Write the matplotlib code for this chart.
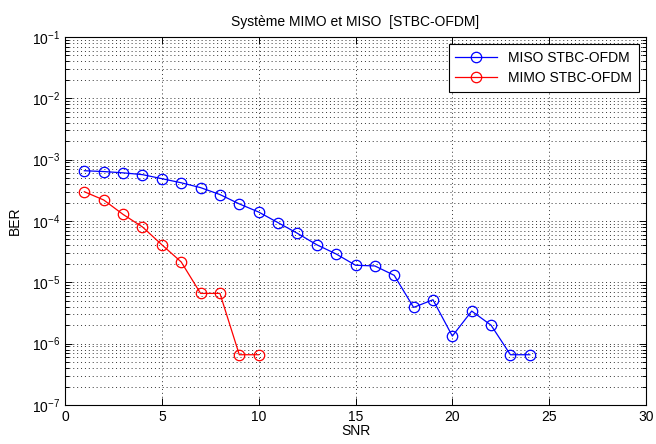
import matplotlib
matplotlib.use("Agg")
import matplotlib.pyplot as plt
from matplotlib.ticker import LogLocator, NullFormatter, MultipleLocator

plt.rcParams['font.family'] = ['Liberation Sans', 'DejaVu Sans']

snr_miso = list(range(1, 25))
ber_miso = [6.6e-4, 6.4e-4, 6.1e-4, 5.7e-4, 4.9e-4, 4.2e-4, 3.5e-4, 2.7e-4,
            1.9e-4, 1.4e-4, 9.4e-5, 6.3e-5, 4.1e-5, 2.9e-5, 1.9e-5, 1.85e-5,
            1.3e-5, 3.9e-6, 5.2e-6, 1.33e-6, 3.4e-6, 2.0e-6, 6.6e-7, 6.6e-7]

snr_mimo = list(range(1, 11))
ber_mimo = [3.0e-4, 2.2e-4, 1.28e-4, 8.0e-5, 4.1e-5, 2.15e-5, 6.6e-6, 6.6e-6,
            6.6e-7, 6.6e-7]

labels = ['MISO STBC-OFDM', 'MIMO STBC-OFDM']

fig = plt.figure(figsize=(6.56, 4.44), dpi=100)
ax = fig.add_axes([65 / 656, 1 - 405 / 444, 581 / 656, 368 / 444])

ax.semilogy(snr_miso, ber_miso, '-o', color='#0000ff', lw=0.9,
            markersize=7.5, markerfacecolor='none', markeredgewidth=0.9,
            label=labels[0])
ax.semilogy(snr_mimo, ber_mimo, '-o', color='#ff0000', lw=0.9,
            markersize=7.5, markerfacecolor='none', markeredgewidth=0.9,
            label=labels[1])

ax.set_xlim(0, 30)
ax.set_ylim(1e-7, 1e-1)
ax.xaxis.set_major_locator(MultipleLocator(5))
ax.yaxis.set_major_locator(LogLocator(base=10, numticks=10))
ax.yaxis.set_minor_locator(LogLocator(base=10, subs=range(2, 10), numticks=20))
ax.yaxis.set_minor_formatter(NullFormatter())
ax.xaxis.get_offset_text().set_visible(False)
ax.yaxis.get_offset_text().set_visible(False)

ax.grid(True, which='major', linestyle=(0, (1, 3)), color='#333333', lw=0.7)
ax.grid(True, which='minor', axis='y', linestyle=(0, (1, 3)), color='#333333', lw=0.7)

ax.tick_params(which='both', direction='in', top=True, right=True,
               labelsize=10, width=0.7)
ax.tick_params(which='major', length=5)
ax.tick_params(which='minor', length=3)
for s in ax.spines.values():
    s.set_linewidth(0.8)

ax.set_title('Système MIMO et MISO  [STBC-OFDM]', fontsize=10, pad=8)
ax.set_xlabel('SNR', fontsize=10, labelpad=0)
ax.set_ylabel('BER', fontsize=10, labelpad=7)

leg = ax.legend(loc='upper right', fontsize=10, fancybox=False,
                framealpha=1, edgecolor='black', borderaxespad=0.5,
                handlelength=3.0, labelspacing=0.45, borderpad=0.5)
leg.get_frame().set_linewidth(0.8)

fig.savefig('out.png', dpi=100)
